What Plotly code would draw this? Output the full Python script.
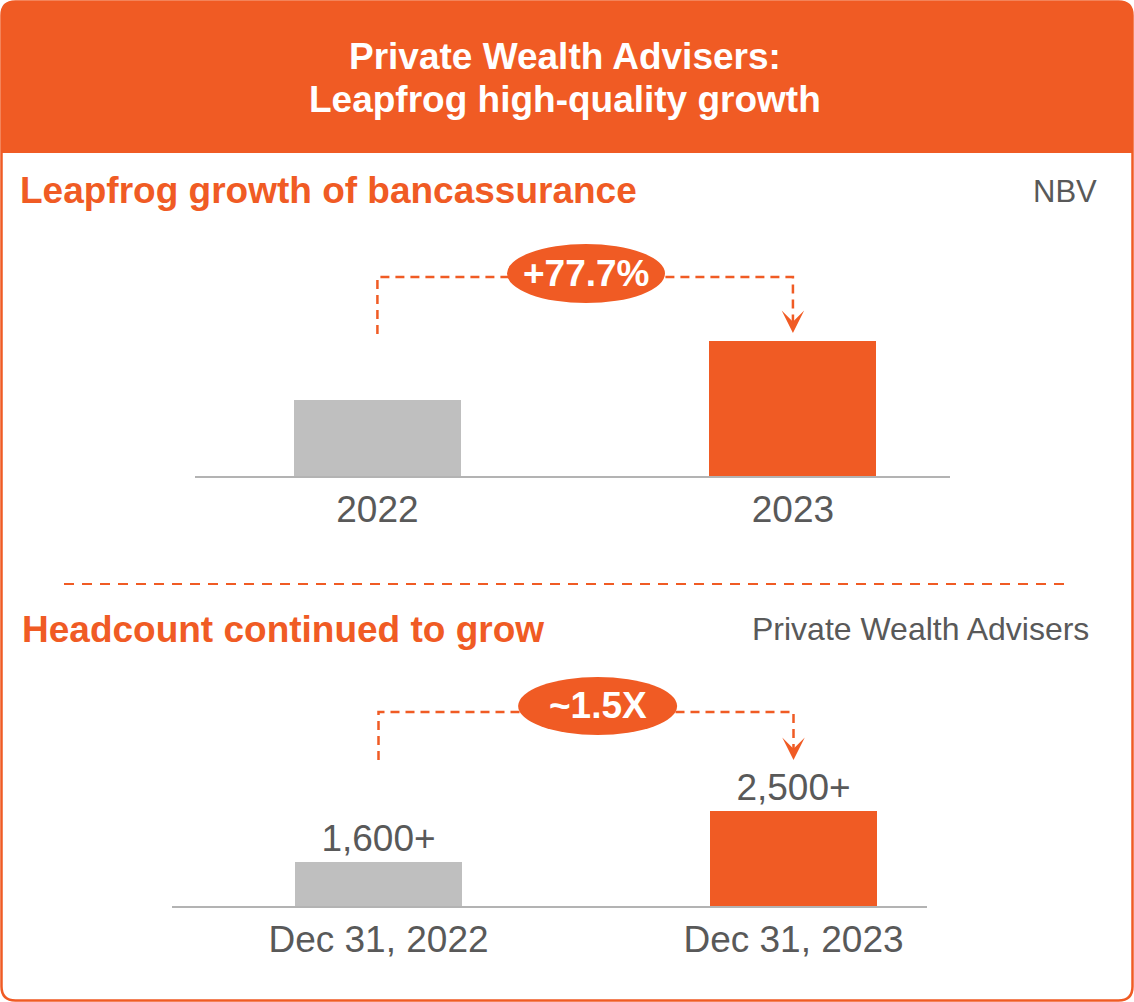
import plotly.graph_objects as go

# ---------------- data ----------------
nbv_years = ["2022", "2023"]
nbv_index = [100, 177.7]          # NBV indexed to 2022 = 100 (+77.7%)
nbv_growth_label = "+77.7%"

hc_dates = ["Dec 31, 2022", "Dec 31, 2023"]
hc_values = [1600, 2500]
hc_labels = ["1,600+", "2,500+"]
hc_growth_label = "~1.5X"

# ---------------- style ----------------
W, H = 1134, 1002
ORANGE = "#F05B24"
GRAY_BAR = "#BFBFBF"
TEXT_GRAY = "#595959"
AXIS_GRAY = "#B3B3B3"
FONT = "Liberation Sans, Arial, sans-serif"


def fx(p):
    return p / W


def fy(p):
    return 1 - p / H


fig = go.Figure()

fig.add_trace(go.Bar(
    x=[0, 1], y=nbv_index, width=0.402,
    marker=dict(color=[GRAY_BAR, ORANGE], line=dict(width=0)),
    xaxis="x", yaxis="y", hoverinfo="skip", showlegend=False,
))
fig.add_trace(go.Bar(
    x=[0, 1], y=hc_values, width=0.402,
    text=hc_labels, textposition="outside",
    textfont=dict(size=37, color=TEXT_GRAY, family=FONT),
    marker=dict(color=[GRAY_BAR, ORANGE], line=dict(width=0)),
    xaxis="x2", yaxis="y2", hoverinfo="skip", showlegend=False,
))

axis_common = dict(
    showline=True, linecolor=AXIS_GRAY, linewidth=1.5,
    showgrid=False, zeroline=False, ticks="",
    tickfont=dict(size=37, color=TEXT_GRAY, family=FONT),
    fixedrange=True,
)

fig.update_layout(
    width=W, height=H,
    margin=dict(l=0, r=0, t=0, b=0),
    paper_bgcolor="white", plot_bgcolor="rgba(0,0,0,0)",
    font=dict(family=FONT),
    bargap=0,
    xaxis=dict(domain=[fx(195), fx(950)], range=[-0.439, 1.378],
               tickvals=[0, 1], ticktext=nbv_years, anchor="y", **axis_common),
    yaxis=dict(domain=[fy(476), fy(230)], range=[0, 323.7], visible=False,
               anchor="x", fixedrange=True),
    xaxis2=dict(domain=[fx(172), fx(927)], range=[-0.4976, 1.3217],
                tickvals=[0, 1], ticktext=hc_dates, anchor="y2", **axis_common),
    yaxis2=dict(domain=[fy(906), fy(660)], range=[820, 5170], visible=False,
                anchor="x2", fixedrange=True),
)

shapes = []
# card header band with rounded top corners
r = 14
x0, x1, yt, yb = 1.5, 1132.5, 1.5, 153
band = (f"M {fx(x0)},{fy(yb)} L {fx(x0)},{fy(yt + r)} "
        f"Q {fx(x0)},{fy(yt)} {fx(x0 + r)},{fy(yt)} "
        f"L {fx(x1 - r)},{fy(yt)} Q {fx(x1)},{fy(yt)} {fx(x1)},{fy(yt + r)} "
        f"L {fx(x1)},{fy(yb)} Z")
shapes.append(dict(type="path", xref="paper", yref="paper", path=band,
                   fillcolor=ORANGE, line=dict(width=0), layer="below"))
# card border
ybot = 1000.5
border = (f"M {fx(x0)},{fy(yt + r)} Q {fx(x0)},{fy(yt)} {fx(x0 + r)},{fy(yt)} "
          f"L {fx(x1 - r)},{fy(yt)} Q {fx(x1)},{fy(yt)} {fx(x1)},{fy(yt + r)} "
          f"L {fx(x1)},{fy(ybot - r)} Q {fx(x1)},{fy(ybot)} {fx(x1 - r)},{fy(ybot)} "
          f"L {fx(x0 + r)},{fy(ybot)} Q {fx(x0)},{fy(ybot)} {fx(x0)},{fy(ybot - r)} Z")
shapes.append(dict(type="path", xref="paper", yref="paper", path=border,
                   line=dict(color=ORANGE, width=2.5), layer="below"))
# separator
shapes.append(dict(type="line", xref="paper", yref="paper",
                   x0=fx(64), x1=fx(1070), y0=fy(584), y1=fy(584),
                   line=dict(color=ORANGE, width=2, dash="10px,8px")))

# brackets (data coordinates)
top_h, top_low, top_tip = 261.8, 186.8, 188.2
shapes.append(dict(type="path", xref="x", yref="y",
                   path=f"M 0,{top_low} L 0,{top_h} L 1,{top_h} L 1,{top_tip + 8}",
                   line=dict(color=ORANGE, width=2.5, dash="9px,6px")))
bot_h, bot_low, bot_tip = 4250.6, 3401.8, 3401.8
shapes.append(dict(type="path", xref="x2", yref="y2",
                   path=f"M 0,{bot_low} L 0,{bot_h} L 1,{bot_h} L 1,{bot_tip + 140}",
                   line=dict(color=ORANGE, width=2.5, dash="9px,6px")))

# ellipses
top_ex, top_ey = 0.502, 266.4
bot_ex, bot_ey = 0.528, 4356.7
shapes.append(dict(type="circle", xref="x", yref="y", xsizemode="pixel", ysizemode="pixel",
                   xanchor=top_ex, yanchor=top_ey, x0=-79, x1=79, y0=-29.5, y1=29.5,
                   fillcolor=ORANGE, line=dict(width=0)))
shapes.append(dict(type="circle", xref="x2", yref="y2", xsizemode="pixel", ysizemode="pixel",
                   xanchor=bot_ex, yanchor=bot_ey, x0=-79.5, x1=79.5, y0=-29, y1=29,
                   fillcolor=ORANGE, line=dict(width=0)))
fig.update_layout(shapes=shapes)

ann = []
# header
ann.append(dict(xref="paper", yref="paper", x=fx(565), y=fy(57), xanchor="center", yanchor="middle",
                text="<b>Private Wealth Advisers:</b>", showarrow=False,
                font=dict(size=37, color="white", family=FONT)))
ann.append(dict(xref="paper", yref="paper", x=fx(565), y=fy(100), xanchor="center", yanchor="middle",
                text="<b>Leapfrog high-quality growth</b>", showarrow=False,
                font=dict(size=37, color="white", family=FONT)))
# section titles
ann.append(dict(xref="paper", yref="paper", x=fx(18), y=fy(190), xanchor="left", yanchor="middle",
                text="<b>Leapfrog growth of bancassurance</b>", showarrow=False,
                font=dict(size=37, color=ORANGE, family=FONT)))
ann.append(dict(xref="paper", yref="paper", x=fx(1099), y=fy(191), xanchor="right", yanchor="middle",
                text="NBV", showarrow=False, font=dict(size=31, color=TEXT_GRAY, family=FONT)))
ann.append(dict(xref="paper", yref="paper", x=fx(20), y=fy(629), xanchor="left", yanchor="middle",
                text="<b>Headcount continued to grow</b>", showarrow=False,
                font=dict(size=37, color=ORANGE, family=FONT)))
ann.append(dict(xref="paper", yref="paper", x=fx(1091), y=fy(629), xanchor="right", yanchor="middle",
                text="Private Wealth Advisers", showarrow=False,
                font=dict(size=32, color=TEXT_GRAY, family=FONT)))
# growth badges
ann.append(dict(xref="x", yref="y", x=top_ex, y=top_ey, xanchor="center", yanchor="middle",
                text=f"<b>{nbv_growth_label}</b>", showarrow=False,
                font=dict(size=37, color="white", family=FONT)))
ann.append(dict(xref="x2", yref="y2", x=bot_ex, y=bot_ey, xanchor="center", yanchor="middle",
                text=f"<b>{hc_growth_label}</b>", showarrow=False,
                font=dict(size=37, color="white", family=FONT)))
# arrow heads
ann.append(dict(xref="x", yref="y", x=1, y=top_tip, ax=0, ay=-8, text="", showarrow=True,
                arrowhead=3, arrowsize=1.5, arrowwidth=2.5, arrowcolor=ORANGE, standoff=0))
ann.append(dict(xref="x2", yref="y2", x=1, y=bot_tip, ax=0, ay=-8, text="", showarrow=True,
                arrowhead=3, arrowsize=1.5, arrowwidth=2.5, arrowcolor=ORANGE, standoff=0))
fig.update_layout(annotations=ann)

fig.write_html(
    "out.html",
    config={"displayModeBar": False, "staticPlot": False},
    post_script="document.body.style.margin='0';document.body.style.overflow='hidden';",
)
